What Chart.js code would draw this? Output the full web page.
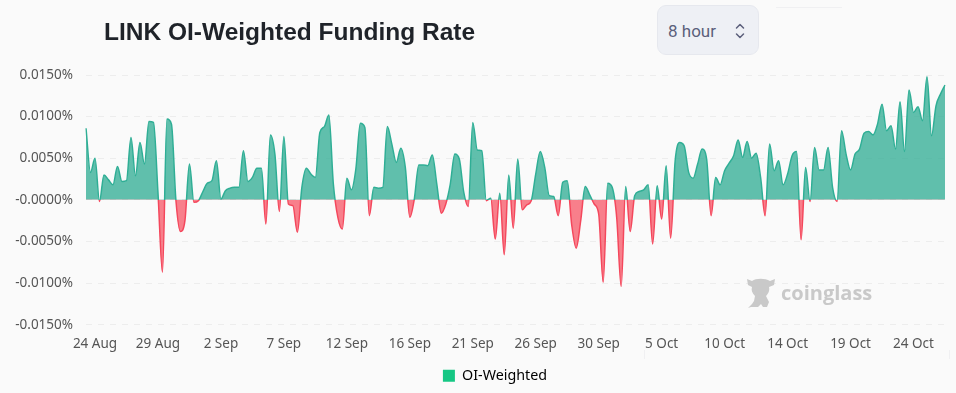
<!DOCTYPE html>
<html>
<head>
<meta charset="utf-8">
<title>LINK OI-Weighted Funding Rate</title>
<script src="https://cdn.jsdelivr.net/npm/chart.js@4"></script>
<style>
  html, body { margin: 0; padding: 0; background: #fafafa; overflow: hidden; }
  #wrap { position: relative; width: 956px; height: 393px; }
  #title { position: absolute; left: 104px; top: 18px; margin: 0; font: bold 24.5px "Liberation Sans", Arial, sans-serif; color: #1f2329; white-space: nowrap; }
  #period { position: absolute; left: 657px; top: 5px; width: 100px; height: 48px; box-sizing: content-box; background: #eef0f5; border: 1px solid #e6e8ee; border-radius: 9px; color: #5b5f7b; font: 17px Roboto, sans-serif; line-height: 50px; text-indent: 10px; }
  #period svg { position: absolute; left: 76px; top: 16px; }
  #mark { position: absolute; left: 746px; top: 276px; width: 130px; height: 34px; color: #c9c9c9; }
  #mark span { position: absolute; left: 35px; top: 3px; font: bold 20px "Open Sans", sans-serif; letter-spacing: 0; }
  .rule { position: absolute; background: #f0f0f2; }
  canvas { position: absolute; left: 0; top: 0; }
</style>
</head>
<body>
<div id="wrap">
  <canvas id="funding" width="956" height="393"></canvas>
  <h1 id="title">LINK OI-Weighted Funding Rate</h1>
  <div id="period">8 hour
    <svg width="12" height="18" viewBox="0 0 12 18" fill="none" stroke="#5b5f7b" stroke-width="1.5" stroke-linecap="round" stroke-linejoin="round"><path d="M2.5 6 L6 2.5 L9.5 6"/><path d="M2.5 12 L6 15.5 L9.5 12"/></svg>
  </div>
  <div class="rule" style="left:776px;top:7px;width:66px;height:1px"></div>
  <div class="rule" style="left:644px;top:350px;width:1px;height:9px"></div>
  <div class="rule" style="left:949px;top:350px;width:1px;height:9px"></div>
  <div id="mark">
    <svg width="30" height="33" viewBox="0 0 30 33" fill="#c9c9c9"><path d="M1 3 L6 5 C10 2 19 2 24 5 L29 3 L28 9 L23 11 C24 15 22 18 20 20 L23 26 L21 31 L17 31 L15 28 L12 31 L5 31 L2 32 L6 28 L8 25 L9 20 C6 17 5 14 6 11 L2 9 Z"/></svg>
    <span>coinglass</span>
  </div>
</div>
<script>
const tickDates = ['24 Aug', '29 Aug', '2 Sep', '7 Sep', '12 Sep', '16 Sep', '21 Sep', '26 Sep', '30 Sep', '5 Oct', '10 Oct', '14 Oct', '19 Oct', '24 Oct'];
const yTicks = [-0.015, -0.01, -0.005, 0, 0.005, 0.01, 0.015];
const yTickLabels = ['-0.0150%', '-0.0100%', '-0.0050%', '-0.0000%', '0.0050%', '0.0100%', '0.0150%'];

// one value every 8 hours
const oiWeighted = [
  0.0086, 0.0033, 0.0050, -0.0002, 0.0030, 0.0024, 0.0018, 0.0040, 0.0022, 0.0023,
  0.0075, 0.0029, 0.0069, 0.0043, 0.0094, 0.0093, 0.0009, -0.0087, 0.0097, 0.0091,
  -0.0001, -0.0038, -0.0025, 0.0043, -0.0003, -0.0001, 0.0010, 0.0020, 0.0023, 0.0047,
  0.0001, 0.0011, 0.0014, 0.0015, 0.0015, 0.0059, 0.0022, 0.0027, 0.0038, 0.0038,
  -0.0029, 0.0078, 0.0055, -0.0014, 0.0076, -0.0005, -0.0007, -0.0039, 0.0015, 0.0038,
  0.0031, 0.0027, 0.0081, 0.0088, 0.0102, 0.0019, -0.0021, -0.0035, 0.0026, 0.0012,
  0.0037, 0.0092, 0.0087, -0.0019, 0.0015, 0.0014, 0.0015, 0.0088, 0.0067, 0.0045,
  0.0062, 0.0039, -0.0021, 0.0001, 0.0042, 0.0042, 0.0041, 0.0054, 0.0019, -0.0016,
  -0.0005, 0.0019, 0.0055, 0.0049, 0.0009, -0.0008, 0.0093, 0.0060, 0.0059, -0.0001,
  0.0002, -0.0047, 0.0008, -0.0066, 0.0030, -0.0034, 0.0049, -0.0012, -0.0006, -0.0001,
  0.0031, 0.0058, 0.0039, 0.0005, 0.0004, -0.0019, 0.0021, 0.0023, -0.0030, -0.0058,
  -0.0025, 0.0016, 0.0006, -0.0005, -0.0017, -0.0099, 0.0020, 0.0015, -0.0021, -0.0104,
  0.0016, -0.0038, 0.0005, 0.0010, 0.0012, 0.0018, -0.0053, 0.0017, -0.0023, 0.0041,
  -0.0046, 0.0047, 0.0069, 0.0065, 0.0033, 0.0026, 0.0043, 0.0061, 0.0049, -0.0019,
  0.0027, 0.0018, 0.0035, 0.0044, 0.0053, 0.0072, 0.0051, 0.0070, 0.0050, 0.0056,
  0.0027, -0.0019, 0.0067, 0.0035, 0.0047, 0.0018, 0.0031, 0.0053, 0.0058, -0.0048,
  0.0039, -0.0002, 0.0063, 0.0036, 0.0036, 0.0063, 0.0015, -0.0002, 0.0083, 0.0055,
  0.0036, 0.0055, 0.0061, 0.0080, 0.0082, 0.0078, 0.0091, 0.0115, 0.0083, 0.0089,
  0.0061, 0.0118, 0.0058, 0.0132, 0.0105, 0.0112, 0.0095, 0.0148, 0.0077, 0.0113,
  0.0127, 0.0138
];

const labelEvery = 14;
const labelStart = 2;
const categories = oiWeighted.map((v, i) =>
  (i - labelStart) % labelEvery === 0 && i >= labelStart ? tickDates[(i - labelStart) / labelEvery] : '');

const tickColor = '#555';
const tickFont = { family: '"Noto Sans", sans-serif', size: 13.5 };

// line colour flips at zero, same as the fill
function signGradient(chart, up, down) {
  const { ctx, chartArea, scales } = chart;
  if (!chartArea) return up;
  const g = ctx.createLinearGradient(0, chartArea.top, 0, chartArea.bottom);
  const stop = (scales.y.getPixelForValue(0) - chartArea.top) / (chartArea.bottom - chartArea.top);
  g.addColorStop(0, up);
  g.addColorStop(stop, up);
  g.addColorStop(stop, down);
  g.addColorStop(1, down);
  return g;
}

// the legend sits right of the canvas centre in the original
const legendShift = {
  id: 'legendShift',
  afterLayout(chart) {
    chart.legend.left += 45;
  }
};

const funding = new Chart(document.getElementById('funding'), {
  type: 'line',
  data: {
    labels: categories,
    datasets: [{
      label: 'OI-Weighted',
      data: oiWeighted,
      borderWidth: 1.5,
      borderColor: ctx => signGradient(ctx.chart, '#2fae95', '#f4475c'),
      backgroundColor: 'rgba(47,174,149,0.75)',
      fill: { target: 'origin', above: 'rgba(52,174,150,0.78)', below: 'rgba(247,92,108,0.78)' },
      cubicInterpolationMode: 'monotone',
      pointRadius: 0,
      pointHoverRadius: 0
    }]
  },
  options: {
    responsive: false,
    animation: false,
    layout: { padding: { left: 0, right: 11, top: 75, bottom: 0 } },
    plugins: {
      tooltip: { enabled: false },
      legend: {
        position: 'bottom',
        labels: {
          boxWidth: 12,
          boxHeight: 12,
          color: '#666',
          font: { family: '"Noto Sans", sans-serif', size: 14.3 },
          padding: 12,
          generateLabels: chart => [{
            text: chart.data.datasets[0].label,
            fillStyle: '#16c784',
            strokeStyle: '#16c784',
            lineWidth: 0,
            datasetIndex: 0
          }]
        }
      }
    },
    scales: {
      x: {
        grid: { display: false },
        border: { display: false },
        afterFit: s => { s.height = 32; },
        ticks: {
          autoSkip: false,
          maxRotation: 0,
          color: tickColor,
          font: tickFont,
          padding: 3,
          callback(value) { return this.getLabelForValue(value); }
        }
      },
      y: {
        min: -0.015,
        max: 0.015,
        afterFit: s => { s.width = 86; },
        afterBuildTicks: s => { s.ticks = yTicks.map(v => ({ value: v })); },
        grid: { color: '#ededed', drawTicks: false },
        border: { display: false, dash: [6, 6] },
        ticks: {
          color: tickColor,
          font: tickFont,
          padding: 13,
          callback: v => yTickLabels[yTicks.indexOf(v)]
        }
      }
    }
  },
  plugins: [legendShift]
});
</script>
</body>
</html>
